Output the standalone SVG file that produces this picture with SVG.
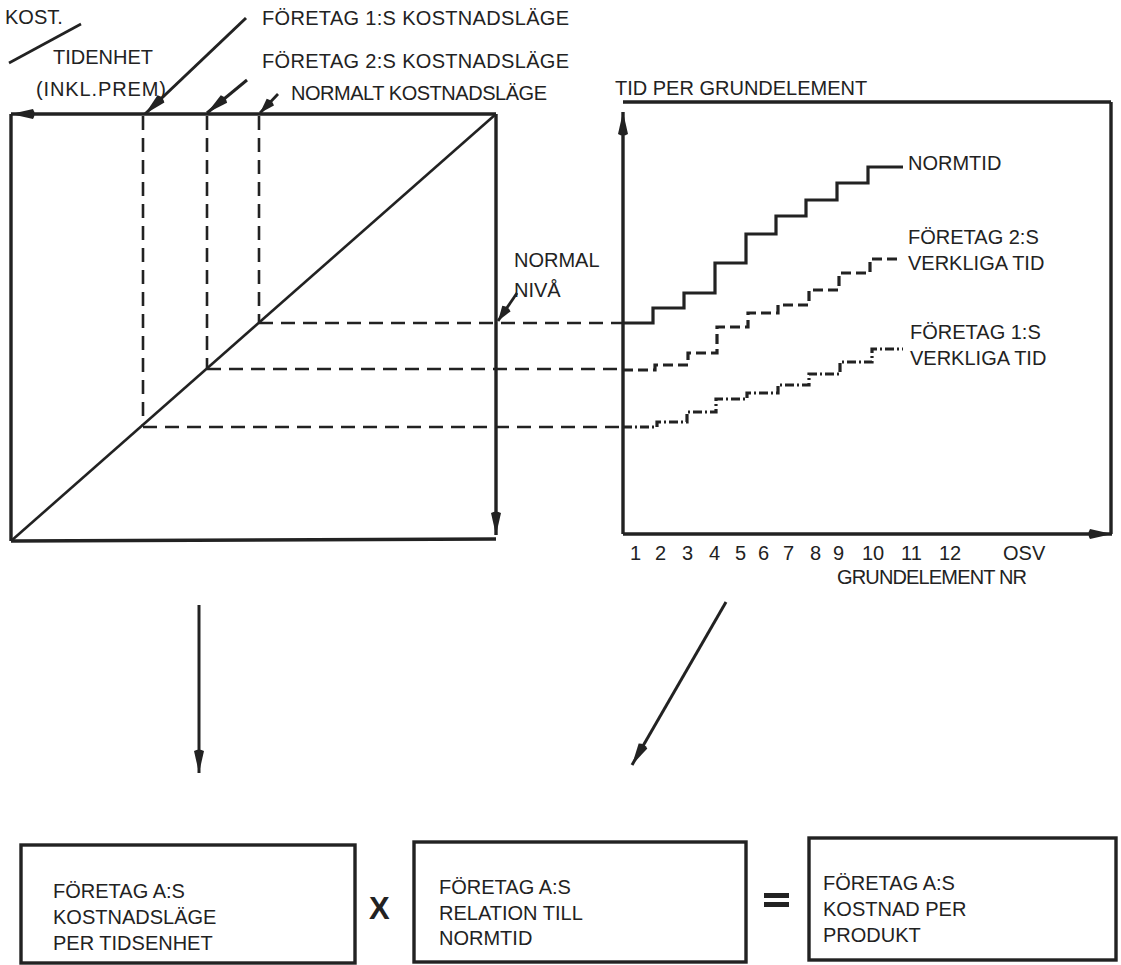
<svg xmlns="http://www.w3.org/2000/svg" width="1121" height="965" viewBox="0 0 1121 965">
<style>
text{font-family:"Liberation Sans",Arial,sans-serif;font-size:20px;fill:#222}
.frame{fill:none;stroke:#222;stroke-width:3.4}
.thin{fill:none;stroke:#222;stroke-width:2.6}
.dash{fill:none;stroke:#222;stroke-width:2.6;stroke-dasharray:14 8}
.stepdash{fill:none;stroke:#222;stroke-width:3.2;stroke-dasharray:10 5}
.stepdot{fill:none;stroke:#222;stroke-width:3.2;stroke-dasharray:9 3 2 3}
.step{fill:none;stroke:#222;stroke-width:3.2}
.arr{fill:none;stroke:#222;stroke-width:3;marker-end:url(#nib)}
.arrs{fill:none;stroke:#222;stroke-width:2.8;marker-end:url(#nibs)}
</style>
<defs>
<marker id="nib" markerUnits="userSpaceOnUse" markerWidth="30" markerHeight="16" viewBox="-26 -8 28 16" refX="0" refY="0" orient="auto">
<path d="M0,0 L-22,-5 Q-25,0 -22,5 Z" fill="#222"/>
</marker>
<marker id="nibs" markerUnits="userSpaceOnUse" markerWidth="24" markerHeight="14" viewBox="-20 -7 22 14" refX="0" refY="0" orient="auto">
<path d="M0,0 L-15,-5 Q-18,0 -15,5 Z" fill="#222"/>
</marker>
</defs>

<g id="left-chart">
<line class="frame" x1="11" y1="114" x2="11" y2="541"/>
<line class="frame" x1="11" y1="541" x2="496" y2="539"/>
<line class="frame" x1="496" y1="114" x2="11" y2="114" marker-end="url(#nib)"/>
<line class="frame" x1="496" y1="114" x2="496" y2="535" marker-end="url(#nib)"/>
<line class="thin" x1="11" y1="541" x2="496" y2="114"/>
<line class="dash" x1="143" y1="116" x2="143" y2="425"/>
<line class="dash" x1="207" y1="116" x2="207" y2="368"/>
<line class="dash" x1="259" y1="116" x2="259" y2="322"/>
<line class="dash" x1="259" y1="323" x2="623" y2="323"/>
<line class="dash" x1="207" y1="369" x2="623" y2="369"/>
<line class="dash" x1="143" y1="427" x2="623" y2="427"/>
</g>

<g id="right-chart">
<line class="frame" x1="623" y1="102" x2="1111" y2="102"/>
<line class="frame" x1="1111" y1="102" x2="1111" y2="534"/>
<line class="frame" x1="623" y1="534" x2="623" y2="112" marker-end="url(#nib)"/>
<line class="frame" x1="623" y1="534" x2="1112" y2="534" marker-end="url(#nib)"/>
<path class="step" d="M623,323 H653 V308 H684 V293 H715 V263 H746 V234 H776 V216 H806 V200 H837 V183 H868 V167 H903"/>
<path class="stepdash" d="M623,370 H655 V365 H688 V353 H717 V327 H748 V313 H778 V305 H809 V290 H839 V273 H870 V259 H898"/>
<path class="stepdot" d="M623,427 H657 V422 H687 V412 H716 V399 H747 V393 H778 V385 H809 V374 H840 V362 H872 V349 H903"/>
<text x="908" y="170">NORMTID</text>
<text x="908" y="244">FÖRETAG 2:S</text>
<text x="908" y="270">VERKLIGA TID</text>
<text x="910" y="339">FÖRETAG 1:S</text>
<text x="910" y="365">VERKLIGA TID</text>
<text x="615" y="95">TID PER GRUNDELEMENT</text>
<g id="x-numbers">
<text x="630" y="560">1</text>
<text x="655" y="560">2</text>
<text x="682" y="560">3</text>
<text x="709" y="560">4</text>
<text x="735" y="560">5</text>
<text x="758" y="560">6</text>
<text x="783" y="560">7</text>
<text x="810" y="560">8</text>
<text x="833" y="560">9</text>
<text x="862" y="560">10</text>
<text x="901" y="560">11</text>
<text x="939" y="560">12</text>
<text x="1003" y="560">OSV</text>
</g>
<text x="837" y="584" textLength="190">GRUNDELEMENT NR</text>
</g>

<g id="top-labels">
<text x="5" y="24">KOST.</text>
<line class="thin" x1="9" y1="63" x2="81" y2="24"/>
<text x="53" y="64">TIDENHET</text>
<text x="36" y="96" textLength="130">(INKL.PREM)</text>
<text x="262" y="25" textLength="307">FÖRETAG 1:S KOSTNADSLÄGE</text>
<text x="262" y="68" textLength="307">FÖRETAG 2:S KOSTNADSLÄGE</text>
<text x="291" y="100" textLength="256">NORMALT KOSTNADSLÄGE</text>
<text x="514" y="267">NORMAL</text>
<text x="514" y="297">NIVÅ</text>
</g>

<g id="box1">
<rect class="frame" x="21" y="845" width="334" height="118"/>
<text x="53" y="898">FÖRETAG A:S</text>
<text x="53" y="924">KOSTNADSLÄGE</text>
<text x="53" y="950">PER TIDSENHET</text>
</g>
<g id="box2">
<rect class="frame" x="414" y="842" width="332" height="120"/>
<text x="439" y="894">FÖRETAG A:S</text>
<text x="439" y="920">RELATION TILL</text>
<text x="439" y="945">NORMTID</text>
</g>
<g id="box3">
<rect class="frame" x="809" y="838" width="307" height="122"/>
<text x="823" y="890">FÖRETAG A:S</text>
<text x="823" y="916">KOSTNAD PER</text>
<text x="823" y="942">PRODUKT</text>
</g>
<g id="operators">
<text x="369" y="919" style="font-size:31px;font-weight:bold">X</text>
<rect x="764" y="893" width="25" height="5" fill="#222"/>
<rect x="764" y="902" width="25" height="5" fill="#222"/>
</g>

<g id="connectors">
<line class="arr" x1="246" y1="18" x2="145" y2="114"/>
<line class="arr" x1="247" y1="80" x2="207" y2="113"/>
<line class="arrs" x1="278" y1="94" x2="260" y2="113"/>
<line class="arrs" x1="517" y1="293" x2="498" y2="321"/>
<line class="arr" x1="199" y1="605" x2="199" y2="773"/>
<line class="arr" x1="726" y1="602" x2="632" y2="765"/>
</g>
</svg>
